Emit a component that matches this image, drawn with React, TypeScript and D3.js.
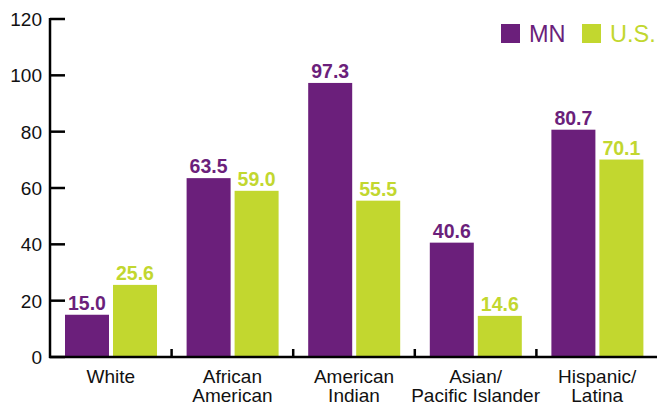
import * as d3 from "d3";

const categories: string[][] = [
  ["White"],
  ["African", "American"],
  ["American", "Indian"],
  ["Asian/", "Pacific Islander"],
  ["Hispanic/", "Latina"],
];
const series = ["MN", "U.S."];
const mnValues = [15.0, 63.5, 97.3, 40.6, 80.7];
const usValues = [25.6, 59.0, 55.5, 14.6, 70.1];
const yTicks = [0, 20, 40, 60, 80, 100, 120];

const colors: Record<string, string> = { MN: "#6b1f7b", "U.S.": "#c2d72f" };
const font = "'Liberation Sans', Arial, Helvetica, sans-serif";

const App = () => {
  const width = 657;
  const height = 406;
  const left = 50;
  const bottom = 357;
  const top = 19;

  const keys = categories.map(c => c.join(" "));
  const x = d3.scaleBand<string>().domain(keys).range([left, 658]);
  const inner = d3.scaleBand<string>().domain(series).range([15, 107]).paddingInner(4 / 48);
  const y = d3.scaleLinear().domain([0, 120]).range([bottom, top]);

  const rows = keys.map((k, i) => ({ key: k, values: [mnValues[i], usValues[i]] }));

  return (
    <svg width={width} height={height} style={{ position: "absolute", left: 0, top: 0 }} fontFamily={font}>
      {/* y axis */}
      <line x1={left} x2={left} y1={top - 1} y2={bottom + 1} stroke="#000" strokeWidth={2.5} />
      {yTicks.map(t => (
        <g key={t}>
          <line x1={left} x2={left + 15} y1={y(t)} y2={y(t)} stroke="#000" strokeWidth={2.5} />
          <text x={42} y={y(t)} dy="0.36em" textAnchor="end" fontSize={19} fill="#111">{t}</text>
        </g>
      ))}
      {/* bars */}
      {rows.map(r => (
        <g key={r.key} transform={`translate(${x(r.key)},0)`}>
          {series.map((s, j) => (
            <g key={s}>
              <rect x={inner(s)} width={inner.bandwidth()} y={y(r.values[j])} height={bottom - y(r.values[j])} fill={colors[s]} />
              <text x={(inner(s) ?? 0) + inner.bandwidth() / 2} y={y(r.values[j]) - 5} textAnchor="middle"
                fontSize={19.5} fontWeight="bold" fill={colors[s]}>{r.values[j].toFixed(1)}</text>
            </g>
          ))}
        </g>
      ))}
      {/* x axis */}
      <line x1={left - 1} x2={width} y1={bottom} y2={bottom} stroke="#000" strokeWidth={2.5} />
      {keys.slice(1).map(k => (
        <line key={k} x1={x(k)} x2={x(k)} y1={bottom} y2={bottom - 8} stroke="#000" strokeWidth={2.5} />
      ))}
      {categories.map((c, i) => (
        <text key={i} x={(x(keys[i]) ?? 0) + x.bandwidth() / 2} y={383} textAnchor="middle" fontSize={19} fill="#111">
          {c.map((line, j) => (
            <tspan key={j} x={(x(keys[i]) ?? 0) + x.bandwidth() / 2} dy={j === 0 ? 0 : 19}>{line}</tspan>
          ))}
        </text>
      ))}
      {/* legend */}
      {series.map((s, i) => {
        const lx = [501, 582][i];
        return (
          <g key={s}>
            <rect x={lx} y={24} width={19} height={19} fill={colors[s]} />
            <text x={lx + 28} y={42} fontSize={23.5} fill={colors[s]}>{s}</text>
          </g>
        );
      })}
    </svg>
  );
};

export default App;
